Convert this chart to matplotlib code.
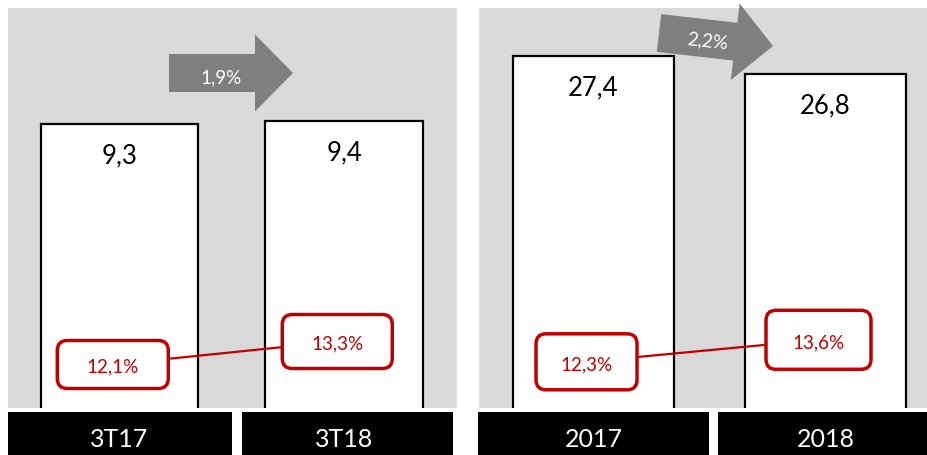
import matplotlib
matplotlib.use('Agg')
import matplotlib.pyplot as plt
from matplotlib.patches import FancyArrow, FancyBboxPatch, Rectangle
from matplotlib.transforms import Affine2D, ScaledTranslation, blended_transform_factory

plt.rcParams['font.family'] = ['Lato', 'DejaVu Sans']

# ---------------- data ----------------
categories_left = ['3T17', '3T18']
values_left = [9.3, 9.4]
margin_left = [12.1, 13.3]
growth_left = '1,9%'

categories_right = ['2017', '2018']
values_right = [27.4, 26.8]
margin_right = [12.3, 13.6]
growth_right = '2,2%'

RED = '#C00000'
GRAY_BG = '#D9D9D9'
ARROW = '#7F7F7F'


def fmt(v, pct=False):
    s = f'{v:.1f}'.replace('.', ',')
    return s + '%' if pct else s


W, H = 928, 456
fig = plt.figure(figsize=(W / 100, H / 100), dpi=100)
# pixel coordinates measured from the top-left corner
px = Affine2D().scale(1, -1).translate(0, H).scale(1 / W, 1 / H) + fig.transFigure

panels = [
    dict(cats=categories_left, vals=values_left, marg=margin_left, growth=growth_left,
         rect=[8 / W, (H - 409) / H, 449 / W, 400 / H],
         xlim=(-0.4967, 1.5033), ylim=(0.06, 13.06), ylim2=(9.83, 30.70), bw=0.70,
         boxes=[(1.11, 0.48), (1.10, 0.54)],
         lab_boxes=[(8, 232), (242, 453)],
         arrow=dict(x=169, y=74, dx=124, dy=0), atext=(221, 83, 0)),
    dict(cats=categories_right, vals=values_right, marg=margin_right, growth=growth_right,
         rect=[479 / W, (H - 409) / H, 449 / W, 400 / H],
         xlim=(-0.4935, 1.442), ylim=(15.6, 29.0), ylim2=(9.57, 33.21), bw=0.694,
         boxes=[(1.01, 0.56), (1.05, 0.59)],
         lab_boxes=[(478, 709), (718, 928)],
         arrow=dict(x=659, y=34, dx=114, dy=13), atext=(707, 47, -6.5)),
]

for p in panels:
    ax = fig.add_axes(p['rect'])
    ax.set_facecolor(GRAY_BG)
    for s in ax.spines.values():
        s.set_visible(False)
    ax.set_xticks([])
    ax.set_yticks([])
    x = list(range(len(p['cats'])))
    ax.bar(x, p['vals'], width=p['bw'], color='white', edgecolor='black',
           linewidth=1.6, zorder=2)
    ax.set_xlim(*p['xlim'])
    ax.set_ylim(*p['ylim'])
    for i, v in zip(x, p['vals']):
        ax.annotate(fmt(v), xy=(i, v), xytext=(0, -28), textcoords='offset points',
                    ha='center', va='baseline', fontsize=18.5, color='black', zorder=3)

    # margin line + boxes on a secondary scale
    ax2 = ax.twinx()
    ax2.set_ylim(*p['ylim2'])
    ax2.set_xlim(*p['xlim'])
    ax2.axis('off')
    xm = [i - 0.03 for i in x]
    ax2.plot(xm, p['marg'], color=RED, linewidth=1.6, zorder=2)
    for (i, m), (bw_in, bh_in) in zip(zip(xm, p['marg']), p['boxes']):
        tr = fig.dpi_scale_trans + ScaledTranslation(i, m, ax2.transData)
        box = FancyBboxPatch((-bw_in / 2, -bh_in / 2), bw_in, bh_in,
                             boxstyle='round,pad=0,rounding_size=0.1',
                             facecolor='white', edgecolor=RED, linewidth=2.5,
                             transform=tr, zorder=3)
        ax2.add_patch(box)
        ax2.annotate(fmt(m, pct=True), xy=(i, m), xytext=(0, -5.2),
                     textcoords='offset points', ha='center', va='baseline',
                     fontsize=13.5, color=RED, zorder=4)

    # category label boxes
    for (x0, x1) in p['lab_boxes']:
        fig.add_artist(Rectangle((x0, 413), x1 - x0, H - 413 + 2, transform=px,
                                 facecolor='black', edgecolor='none'))
    btr = blended_transform_factory(ax.transData, px)
    for i, c in zip(x, p['cats']):
        fig.text(i, 447, c, transform=btr, ha='center', va='baseline',
                 fontsize=18, color='white')

    # growth arrow
    a = p['arrow']
    fig.add_artist(FancyArrow(a['x'], a['y'], a['dx'], a['dy'], width=38,
                              head_width=77, head_length=38,
                              length_includes_head=True, transform=px,
                              facecolor=ARROW, edgecolor='none'))
    tx, ty, rot = p['atext']
    fig.text(tx, ty, p['growth'], transform=px, ha='center', va='baseline',
             fontsize=13.5, color='white', rotation=rot, rotation_mode='anchor')

fig.savefig('out.png', dpi=100, facecolor='white')
